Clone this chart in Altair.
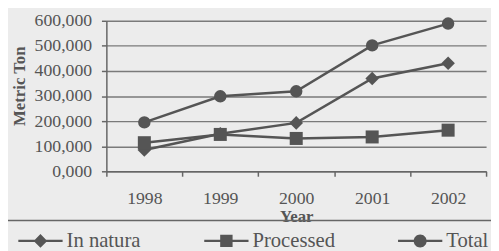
import altair as alt
import pandas as pd

years = ["1998", "1999", "2000", "2001", "2002"]
series_names = ["In natura", "Processed", "Total"]
in_natura = [85000, 150000, 193000, 370000, 431000]
processed = [114000, 147000, 131000, 137000, 164000]
total = [195000, 299000, 319000, 502000, 589000]
y_ticks = [0, 100000, 200000, 300000, 400000, 500000, 600000]

rows = []
for name, vals in zip(series_names, [in_natura, processed, total]):
    for yr, v in zip(years, vals):
        rows.append({"Year": yr, "value": v, "series": name})
df = pd.DataFrame(rows)

FONT = "Liberation Serif"
TXT = "#555555"
INK = "#555555"

# legend symbols: a short bar with a marker on it (custom paths, unit = sqrt(size)/2)
leg_paths = [
    "M-1.25,-0.2H6.25V0.2H-1.25ZM2.5,-1.15L3.65,0L2.5,1.15L1.35,0Z",
    "M-1.25,-0.2H6.25V0.2H-1.25ZM1.45,-1.05H3.55V1.05H1.45Z",
    "M-1.25,-0.2H6.25V0.2H-1.25ZM1.4,0A1.1,1.1,0,1,1,3.6,0A1.1,1.1,0,1,1,1.4,0Z",
]

x_enc = alt.X(
    "Year:N",
    sort=years,
    scale=alt.Scale(type="band", paddingInner=0, paddingOuter=0),
    axis=alt.Axis(
        title="Year",
        labelAngle=0,
        tickBand="extent",
        tickSize=5,
        tickColor="#666666",
        domainColor="#666666",
        domainWidth=1.5,
        tickWidth=1.5,
        labelFont=FONT,
        labelFontSize=18,
        labelColor=TXT,
        labelBaseline="alphabetic",
        labelPadding=28,
        titleFont=FONT,
        titleFontSize=17,
        titleFontWeight="bold",
        titleColor=TXT,
        titleBaseline="alphabetic",
        titleY=51,
        grid=False,
    ),
)
y_enc = alt.Y(
    "value:Q",
    scale=alt.Scale(domain=[0, 600000], nice=False),
    axis=alt.Axis(
        title="Metric Ton",
        values=y_ticks,
        labelExpr="datum.value == 0 ? '0,000' : format(datum.value, ',')",
        tickSize=5,
        tickColor="#666666",
        tickWidth=1.5,
        domainColor="#666666",
        domainWidth=1.5,
        labelFont=FONT,
        labelFontSize=18,
        labelColor=TXT,
        labelPadding=10,
        grid=True,
        gridColor="#7a7a7a",
        gridWidth=1.5,
        titleFont=FONT,
        titleFontSize=17,
        titleFontWeight="bold",
        titleColor=TXT,
        titleBaseline="alphabetic",
        titleX=-83,
        titleY=66,
        titleAngle=270,
    ),
)

base = alt.Chart(df)

lines = base.mark_line(color=INK, strokeWidth=2.5).encode(
    x=x_enc, y=y_enc, detail="series:N"
)

points = base.mark_point(filled=True, color=INK, opacity=1).encode(
    x=x_enc,
    y=y_enc,
    shape=alt.Shape(
        "series:N",
        scale=alt.Scale(domain=series_names, range=["diamond", "square", "circle"]),
        legend=None,
    ),
    size=alt.Size(
        "series:N",
        scale=alt.Scale(domain=series_names, range=[190, 160, 170]),
        legend=None,
    ),
)

legend_layer = base.mark_point(filled=True, color=INK, opacity=0).encode(
    x=x_enc,
    y=y_enc,
    shape=alt.Shape(
        "series:N",
        scale=alt.Scale(domain=series_names, range=leg_paths),
        legend=alt.Legend(
            title=None,
            orient="none",
            legendX=-92.5,
            legendY=213,
            direction="horizontal",
            columnPadding=61,
            labelOffset=31,
            symbolSize=144,
            symbolStrokeWidth=0,
            symbolFillColor=INK,
            symbolOpacity=1,
            labelFont=FONT,
            labelFontSize=21,
            labelColor=TXT,
            padding=0,
        ),
    ),
)

sep = alt.Chart(pd.DataFrame({"k": [0]})).mark_rule(
    color="#666666", strokeWidth=1.5
).encode(x=alt.value(-110), x2=alt.value(400), y=alt.value(203))

chart = (
    alt.layer(lines, points, legend_layer, sep)
    .resolve_scale(shape="independent", size="independent")
    .properties(
        width=386,
        height=153,
        autosize=alt.AutoSizeParams(type="none"),
        padding={"left": 100, "top": 11, "right": 5, "bottom": 79},
        background="#ececec",
    )
    .configure_view(stroke=None)
)

chart.save("out.html", embed_options={"renderer": "svg", "actions": False})
